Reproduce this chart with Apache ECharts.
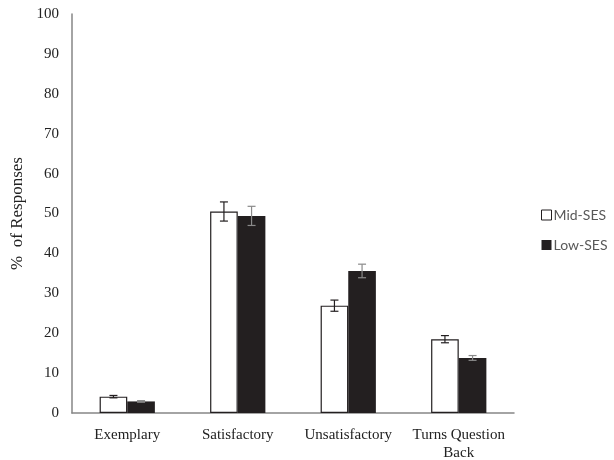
<!DOCTYPE html>
<html><head><meta charset="utf-8">
<script src="https://cdn.jsdelivr.net/npm/echarts@6/dist/echarts.min.js"></script>
<style>html,body{margin:0;padding:0;background:#fff}#c{width:614px;height:460px}</style>
</head><body><div id="c"></div>
<script>
const categories = ["Exemplary", "Satisfactory", "Unsatisfactory", "Turns Question\nBack"];
const midSES = [4.1, 50.5, 26.9, 18.5];
const midErr = [0.3, 2.4, 1.4, 0.9];
const lowSES = [2.9, 49.4, 35.6, 13.8];
const lowErr = [0.2, 2.4, 1.7, 0.6];
const yTicks = [0, 10, 20, 30, 40, 50, 60, 70, 80, 90, 100];

const chart = echarts.init(document.getElementById('c'));

function errSeries(vals, errs, side, color) {
  return {
    type: 'custom',
    silent: true,
    z: 10,
    data: vals.map((v, i) => [i, v, errs[i]]),
    renderItem: function (params, api) {
      const i = api.value(0), v = api.value(1), e = api.value(2);
      const band = api.size([1, 0])[0];
      const cx = api.coord([i, v])[0] + side * band * 0.125;
      const yt = api.coord([i, v + e])[1];
      const yb = api.coord([i, v - e])[1];
      const hw = 4;
      const st = { stroke: color, lineWidth: 1.2 };
      return {
        type: 'group',
        children: [
          { type: 'line', shape: { x1: cx, y1: yt, x2: cx, y2: yb }, style: st },
          { type: 'line', shape: { x1: cx - hw, y1: yt, x2: cx + hw, y2: yt }, style: st },
          { type: 'line', shape: { x1: cx - hw, y1: yb, x2: cx + hw, y2: yb }, style: st }
        ]
      };
    }
  };
}

chart.setOption({
  animation: false,
  backgroundColor: '#fff',
  grid: { left: 72, right: 100, top: 14, bottom: 47, containLabel: false, outerBoundsMode: 'none' },
  legend: {
    orient: 'vertical',
    left: 536,
    top: 202,
    itemGap: 14,
    itemWidth: 10,
    itemHeight: 10,
    textStyle: { fontFamily: 'Lato, sans-serif', fontSize: 14, color: '#595959', padding: [0, 0, 0, -3], lineHeight: 16 },
    data: [
      { name: 'Mid-SES', icon: 'rect', itemStyle: { color: '#fff', borderColor: '#231f20', borderWidth: 1 } },
      { name: 'Low-SES', icon: 'rect', itemStyle: { color: '#231f20' } }
    ]
  },
  xAxis: {
    type: 'category',
    data: categories,
    axisLine: { lineStyle: { color: '#868686', width: 1.5 } },
    axisTick: { show: false },
    axisLabel: { fontFamily: 'Liberation Serif, serif', fontSize: 15, color: '#222', margin: 13, lineHeight: 18, interval: 0 }
  },
  yAxis: {
    type: 'value',
    min: 0, max: 100, interval: 10,
    name: '%  of Responses',
    nameLocation: 'middle',
    nameGap: 42,
    nameTextStyle: { fontFamily: 'Liberation Serif, serif', fontSize: 17, color: '#222' },
    splitLine: { show: false },
    axisLine: { show: true, lineStyle: { color: '#868686', width: 1.5 } },
    axisTick: { show: false },
    axisLabel: { fontFamily: 'Liberation Serif, serif', fontSize: 15, color: '#222', margin: 13,
      formatter: v => yTicks.includes(v) ? String(v) : '' }
  },
  series: [
    { name: 'Mid-SES', type: 'bar', data: midSES, barGap: '0%', barCategoryGap: '50%',
      itemStyle: { color: '#fff', borderColor: '#231f20', borderWidth: 1.2 } },
    { name: 'Low-SES', type: 'bar', data: lowSES,
      itemStyle: { color: '#231f20' } },
    errSeries(midSES, midErr, -1, '#231f20'),
    errSeries(lowSES, lowErr, 1, '#8a8a8a')
  ]
});
</script></body></html>
